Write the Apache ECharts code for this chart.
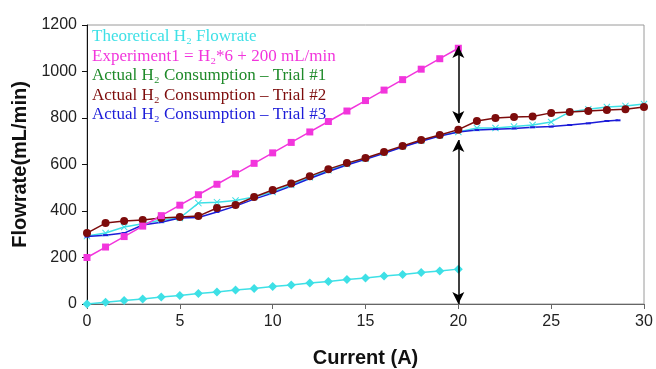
<!DOCTYPE html>
<html><head><meta charset="utf-8">
<script src="https://cdn.jsdelivr.net/npm/echarts@6/dist/echarts.min.js"></script>
<style>html,body{margin:0;padding:0;background:#fff}#c{width:656px;height:369px}</style>
</head><body><div id="c"></div>
<script>
const current = [0,1,2,3,4,5,6,7,8,9,10,11,12,13,14,15,16,17,18,19,20,21,22,23,24,25,26,27,28,29,30];
const theoretical = [0,7.5,15,22,30,37,45,52,60,67,75,82,90,97,105,112,120,127,135,142,150];
const experiment1 = [200,245,290,335,380,425,470,515,560,605,650,695,740,785,830,875,920,965,1010,1055,1100];
const trial1 = [292,305,331,345,361,370,434,438,445,460,482,512,545,575,602,625,650,677,702,725,740,757,757,763,770,783,826,838,847,852,860];
const trial2 = [305,348,357,361,370,374,378,413,426,460,490,518,550,580,606,628,654,680,705,727,750,787,800,804,806,822,826,830,834,838,847];
const trial3x = [0,1,2,3,4,5,6,7,8,9,10,11,12,13,14,15,16,17,18,19,20,21,22,23,24,25,26,27,28,28.6];
const trial3 = [290,296,305,340,352,370,372,396,421,451,477,507,540,570,598,622,648,675,700,722,740,748,752,755,760,763,770,777,787,790];
const yTicks = [0,200,400,600,800,1000,1200];
const xTicks = [0,5,10,15,20,25,30];

const pair = (xs, ys) => ys.map((v,i)=>[xs[i], v]);
const cyan='#3ee0e6', magenta='#f235dc', dred='#7d0c0c', blue='#1c1cd8', green='#1f8a2a';
const cross='path://M0,1L1,0L5,4L9,0L10,1L6,5L10,9L9,10L5,6L1,10L0,9L4,5Z';
const serif='"Liberation Serif","Times New Roman",serif';
const sans='"Liberation Sans",Arial,sans-serif';

const chart = echarts.init(document.getElementById('c'));
chart.setOption({
  animation:false,
  grid:{left:87,right:12,top:25,bottom:65,outerBoundsMode:'none',containLabel:false,show:true,borderColor:'#9a9a9a',borderWidth:1,backgroundColor:'transparent'},
  legend:{orient:'vertical',left:86,top:23,itemWidth:0,itemHeight:17,itemGap:2.6,icon:'none',selectedMode:false,
    textStyle:{fontFamily:serif,fontSize:17,padding:[0,0,0,-4]},
    data:[
      {name:'Theoretical H₂ Flowrate',textStyle:{color:cyan}},
      {name:'Experiment1 = H₂*6 + 200 mL/min',textStyle:{color:magenta}},
      {name:'Actual H₂ Consumption – Trial #1',textStyle:{color:green}},
      {name:'Actual H₂ Consumption – Trial #2',textStyle:{color:dred}},
      {name:'Actual H₂ Consumption – Trial #3',textStyle:{color:blue}}
    ]},
  xAxis:{type:'value',min:0,max:30,interval:5,
    name:'Current (A)',nameLocation:'middle',nameGap:44,
    nameTextStyle:{fontFamily:sans,fontWeight:'bold',fontSize:20,color:'#111'},
    axisLine:{lineStyle:{color:'#666',width:1}},
    axisTick:{show:true,length:5,lineStyle:{color:'#666'}},
    axisLabel:{fontFamily:sans,fontSize:16,color:'#222',margin:10,
      formatter:v=>xTicks.includes(v)?String(v):''},
    splitLine:{show:false}},
  yAxis:{type:'value',min:0,max:1200,interval:200,
    name:'Flowrate(mL/min)',nameLocation:'middle',nameGap:56,
    nameTextStyle:{fontFamily:sans,fontWeight:'bold',fontSize:20,color:'#111'},
    axisLine:{show:true,lineStyle:{color:'#111',width:1}},
    axisTick:{show:true,length:5,lineStyle:{color:'#111'}},
    axisLabel:{fontFamily:sans,fontSize:16,color:'#222',margin:10,
      formatter:v=>yTicks.includes(v)?String(v):''},
    splitLine:{show:false}},
  series:[
    {name:'Actual H₂ Consumption – Trial #1',type:'line',data:pair(current,trial1),
      symbol:cross,symbolSize:7,itemStyle:{color:cyan},lineStyle:{color:cyan,width:1.5}},
    {name:'Actual H₂ Consumption – Trial #3',type:'line',data:pair(trial3x,trial3),
      symbol:'rect',symbolSize:[5,2],itemStyle:{color:blue},lineStyle:{color:blue,width:1.5}},
    {name:'Actual H₂ Consumption – Trial #2',type:'line',data:pair(current,trial2),
      symbol:'circle',symbolSize:8,itemStyle:{color:dred},lineStyle:{color:dred,width:1.5}},
    {name:'Experiment1 = H₂*6 + 200 mL/min',type:'line',data:pair(current,experiment1),
      symbol:'rect',symbolSize:7,itemStyle:{color:magenta},lineStyle:{color:magenta,width:1.5}},
    {name:'Theoretical H₂ Flowrate',type:'line',data:pair(current,theoretical),
      symbol:'diamond',symbolSize:9,itemStyle:{color:cyan},lineStyle:{color:cyan,width:1.5},
      markLine:{silent:true,symbol:['arrow','arrow'],symbolSize:[9,12],
        lineStyle:{color:'#000',width:1.5,type:'solid'},label:{show:false},
        data:[
          [{coord:[20,1110]},{coord:[20,778]}],
          [{coord:[20,705]},{coord:[20,0]}]
        ]},
      markPoint:{silent:true,symbol:'none',
        label:{show:true,position:'right',fontFamily:serif,fontSize:16,color:'#111',distance:0},
        data:[
          {coord:[20.5,942],value:'Excess H₂',label:{formatter:'Excess H₂'}},
          {coord:[20.4,434],value:'H₂ consumed',label:{formatter:'H₂ consumed'}}
        ]}}
  ]
});
</script></body></html>
